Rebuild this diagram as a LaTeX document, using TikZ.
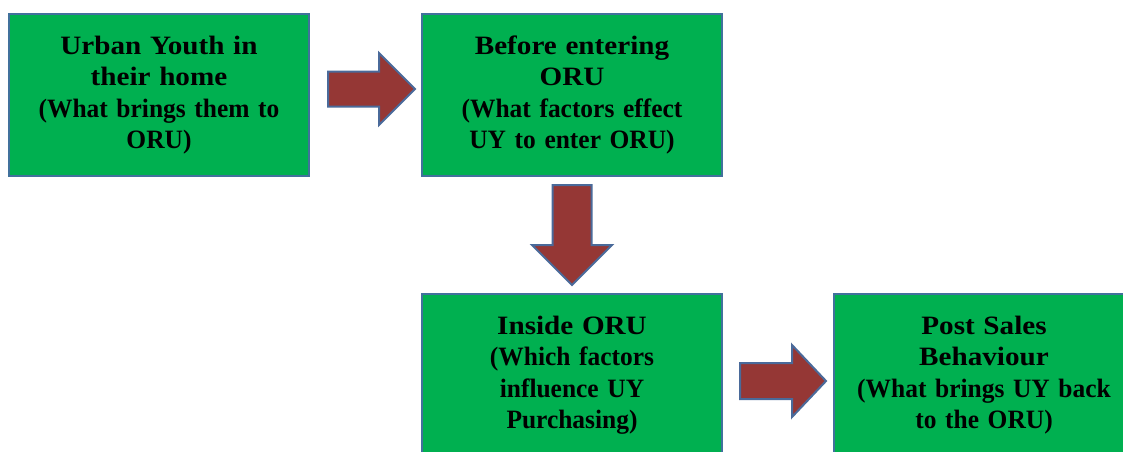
\documentclass[tikz,border=0pt]{standalone}
\usepackage{fontspec}
\setmainfont{Liberation Serif}
\newfontfamily\ttlfont[FakeStretch=1.1]{Liberation Serif}
\newfontfamily\subfont[FakeStretch=0.96, WordSpace=0.75]{Liberation Serif}
\newcommand\ttl{\ttlfont\bfseries\fontsize{26.5}{31.5}\selectfont}
\newcommand\sbt{\subfont\bfseries\fontsize{26.5}{31.5}\selectfont}
\usetikzlibrary{calc}
\definecolor{boxgreen}{HTML}{00B050}
\definecolor{boxborder}{HTML}{41719C}
\definecolor{arrowred}{HTML}{953735}
\definecolor{arrowborder}{HTML}{4A6A9A}
\tikzset{
  stagebox/.style={draw=boxborder, line width=2.5pt, fill=boxgreen,
    minimum width=300pt, minimum height=162pt, inner sep=0pt,
    align=center, text width=290pt,
    font=\bfseries\fontsize{26}{31.5}\selectfont},
  blockarrow/.style={draw=arrowborder, line width=2pt, fill=arrowred, line join=miter}
}
% block arrow: start, end, shaft half width, head half width, head length
\newcommand\hblockarrow[5]{%
  \draw[blockarrow] ($(#1)+(0,-#3)$) -- ($(#2)+(-#5,-#3)$) -- ($(#2)+(-#5,-#4)$) -- (#2)
    -- ($(#2)+(-#5,#4)$) -- ($(#2)+(-#5,#3)$) -- ($(#1)+(0,#3)$) -- cycle;}
\newcommand\vblockarrow[5]{%
  \draw[blockarrow] ($(#1)+(-#3,0)$) -- ($(#2)+(-#3,-#5)$) -- ($(#2)+(-#4,-#5)$) -- (#2)
    -- ($(#2)+(#4,-#5)$) -- ($(#2)+(#3,-#5)$) -- ($(#1)+(#3,0)$) -- cycle;}
\begin{document}
\begin{tikzpicture}[x=1pt, y=-1pt]
\useasboundingbox (0,0) rectangle (1123,451);
\clip (0,0) rectangle (1123,451);
\fill[white] (0,0) rectangle (1123,451);

\node[stagebox] (b1) at (159,95) {{\ttl Urban Youth in\\their home\\}{\sbt (What brings them to\\ORU)}};
\node[stagebox] (b2) at (572,95) {{\ttl Before entering\\ORU\\}{\sbt (What factors effect\\UY to enter ORU)}};
\node[stagebox] (b3) at (572,375) {{\ttl Inside ORU\\}{\sbt (Which factors\\influence UY\\Purchasing)}};
\node[stagebox] (b4) at (984,375) {{\ttl Post Sales\\Behaviour\\}{\sbt (What brings UY back\\to the ORU)}};

\coordinate (a1s) at (328,89);
\coordinate (a1e) at (415,89);
\coordinate (a2s) at (572,185);
\coordinate (a2e) at (572,285);
\coordinate (a3s) at (740,381);
\coordinate (a3e) at (826,381);

\hblockarrow{a1s}{a1e}{17.5}{36}{36}
\vblockarrow{a2s}{a2e}{19.5}{40}{40}
\hblockarrow{a3s}{a3e}{18}{36}{34}
\end{tikzpicture}
\end{document}
